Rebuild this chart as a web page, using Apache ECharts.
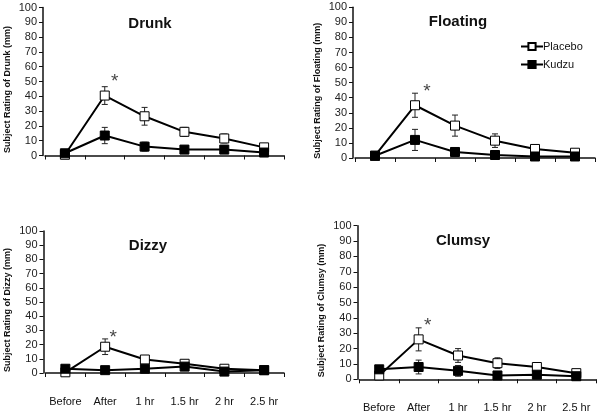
<!DOCTYPE html>
<html><head><meta charset="utf-8">
<script src="https://cdn.jsdelivr.net/npm/echarts@6/dist/echarts.min.js"></script>
<style>html,body{margin:0;padding:0;background:#fff}#c{width:600px;height:417px}</style>
</head><body><div id="c"></div>
<script>
const categories = ['Before','After','1 hr','1.5 hr','2 hr','2.5 hr'];
const panelTitles = ['Drunk','Floating','Dizzy','Clumsy'];
const yNames = ['Subject Rating of Drunk (mm)','Subject Rating of Floating (mm)','Subject Rating of Dizzy (mm)','Subject Rating of Clumsy (mm)'];

const drunkPlacebo = [0.5, 40.5, 26.5, 16, 11.5, 5.5];
const drunkPlaceboErr = [0.5, 6, 6, 3, 3, 1];
const drunkKudzu = [1.5, 13.5, 6, 4, 4, 2];
const drunkKudzuErr = [0.5, 5.5, 3, 1.5, 2.5, 1];

const floatingPlacebo = [1.5, 35, 21.5, 11.5, 6, 3.5];
const floatingPlaceboErr = [0.5, 8, 7, 4.5, 1.5, 1];
const floatingKudzu = [1.5, 12, 4, 2, 1, 1];
const floatingKudzuErr = [0.5, 7, 1.5, 1, 0.5, 0.5];

const dizzyPlacebo = [0.5, 18.5, 9.5, 6.5, 3, 2];
const dizzyPlaceboErr = [0.5, 5.5, 2.5, 2, 1, 0.5];
const dizzyKudzu = [3, 2, 3, 4.5, 1, 2];
const dizzyKudzuErr = [0.5, 0.5, 1, 1.5, 0.5, 0.5];

const clumsyPlacebo = [2.5, 26, 15.5, 10.5, 8, 4];
const clumsyPlaceboErr = [0.5, 7.5, 4.5, 3.5, 1.5, 1];
const clumsyKudzu = [6.5, 8, 5.5, 2.5, 3, 2];
const clumsyKudzuErr = [1, 4.5, 3.5, 1, 1, 0.5];

// significance asterisk height (mm) at "After"
const asteriskValues = [52, 46, 27, 37];

const placeboSets = [drunkPlacebo, floatingPlacebo, dizzyPlacebo, clumsyPlacebo];
const placeboErrSets = [drunkPlaceboErr, floatingPlaceboErr, dizzyPlaceboErr, clumsyPlaceboErr];
const kudzuSets = [drunkKudzu, floatingKudzu, dizzyKudzu, clumsyKudzu];
const kudzuErrSets = [drunkKudzuErr, floatingKudzuErr, dizzyKudzuErr, clumsyKudzuErr];

// layout (pixels)
const grids = [
  {left:45, top:7.5, width:239, height:148, off:16.5, showLabels:false, titleX:145, titleY:11, nameGap:31, starDx:10},
  {left:355, top:7.3, width:240, height:150.7, off:15, showLabels:false, titleX:453, titleY:9, nameGap:31, starDx:12},
  {left:45.5, top:231, width:238.5, height:142, off:15, showLabels:true, titleX:143, titleY:233, nameGap:31, starDx:8},
  {left:359.5, top:225.7, width:236.5, height:153.6, off:14.7, showLabels:true, titleX:458, titleY:228, nameGap:31, starDx:9}
];

const FONT = 'Liberation Sans, Arial, sans-serif';
const INK = '#111';

function errRender(params, api) {
  const x = api.value(0), y = api.value(1), e = api.value(2);
  const hi = api.coord([x, y + e]);
  const lo = api.coord([x, y - e]);
  const w = 3;
  const st = {stroke: '#222', lineWidth: 1};
  return {type: 'group', children: [
    {type:'line', shape:{x1:hi[0], y1:hi[1], x2:lo[0], y2:lo[1]}, style:st},
    {type:'line', shape:{x1:hi[0]-w, y1:hi[1], x2:hi[0]+w, y2:hi[1]}, style:st},
    {type:'line', shape:{x1:lo[0]-w, y1:lo[1], x2:lo[0]+w, y2:lo[1]}, style:st}
  ]};
}

const option = {
  animation: false,
  backgroundColor: '#fff',
  textStyle: {fontFamily: FONT},
  title: grids.map((g, i) => ({
    text: panelTitles[i], left: g.titleX, top: g.titleY, textAlign: 'center',
    textStyle: {fontFamily: FONT, fontWeight: 'bold', fontSize: 15, color: INK}
  })),
  legend: {
    data: ['Placebo', 'Kudzu'], orient: 'vertical', left: 515, top: 36,
    itemWidth: 22, itemHeight: 9, itemGap: 7,
    textStyle: {fontFamily: FONT, fontSize: 11, color: INK, padding: [0,0,0,-5]}
  },
  grid: grids.map(g => ({left: g.left, top: g.top, width: g.width, height: g.height})),
  xAxis: grids.map((g, i) => ({
    type: 'category', gridIndex: i, data: categories, boundaryGap: true,
    position: 'bottom', offset: g.off,
    axisLine: {lineStyle: {color: INK, width: 1.5}},
    axisTick: {show: true, inside: false, length: 4, interval: 0, lineStyle: {color: INK, width: 1}},
    axisLabel: {show: g.showLabels, interval: 0, fontFamily: FONT, fontSize: 11, color: INK, margin: 8},
    splitLine: {show: false}
  })),
  yAxis: grids.map((g, i) => ({
    type: 'value', gridIndex: i, min: 0, max: 100, interval: 10, offset: 2,
    name: yNames[i], nameLocation: 'middle', nameGap: g.nameGap, nameRotate: 90,
    nameTextStyle: {fontFamily: FONT, fontWeight: 'bold', fontSize: 9, color: INK, padding: [0, 16, 0, 0]},
    axisLine: {show: true, lineStyle: {color: INK, width: 1.5}},
    axisTick: {show: true, inside: false, length: 4, lineStyle: {color: INK}},
    axisLabel: {fontFamily: FONT, fontSize: 11, color: '#222', margin: 6},
    splitLine: {show: false}
  })),
  series: []
};

grids.forEach((g, i) => {
  option.series.push({
    type: 'custom', name: 'errP' + i, xAxisIndex: i, yAxisIndex: i, z: 1,
    renderItem: errRender,
    data: placeboSets[i].map((v, k) => [k, v, placeboErrSets[i][k]])
  });
  option.series.push({
    type: 'custom', name: 'errK' + i, xAxisIndex: i, yAxisIndex: i, z: 1,
    renderItem: errRender,
    data: kudzuSets[i].map((v, k) => [k, v, kudzuErrSets[i][k]])
  });
  option.series.push({
    type: 'line', name: 'Placebo', xAxisIndex: i, yAxisIndex: i, z: 3,
    data: placeboSets[i], symbol: 'rect', symbolSize: 9, showAllSymbol: true,
    lineStyle: {color: '#000', width: 2},
    itemStyle: {color: '#fff', borderColor: '#000', borderWidth: 1}
  });
  option.series.push({
    type: 'line', name: 'Kudzu', xAxisIndex: i, yAxisIndex: i, z: 4,
    data: kudzuSets[i], symbol: 'rect', symbolSize: 9, showAllSymbol: true,
    lineStyle: {color: '#000', width: 2},
    itemStyle: {color: '#000', borderColor: '#000', borderWidth: 1}
  });
  option.series.push({
    type: 'scatter', name: 'sig' + i, xAxisIndex: i, yAxisIndex: i, z: 5,
    data: [[1, asteriskValues[i]]], symbolSize: 1,
    itemStyle: {color: 'rgba(0,0,0,0)'},
    label: {show: true, position: 'inside', formatter: '*', offset: [g.starDx, 3],
      fontFamily: FONT, fontSize: 19, color: INK}
  });
});

const chart = echarts.init(document.getElementById('c'), null, {renderer: 'canvas'});
chart.setOption(option);
</script>
</body></html>
